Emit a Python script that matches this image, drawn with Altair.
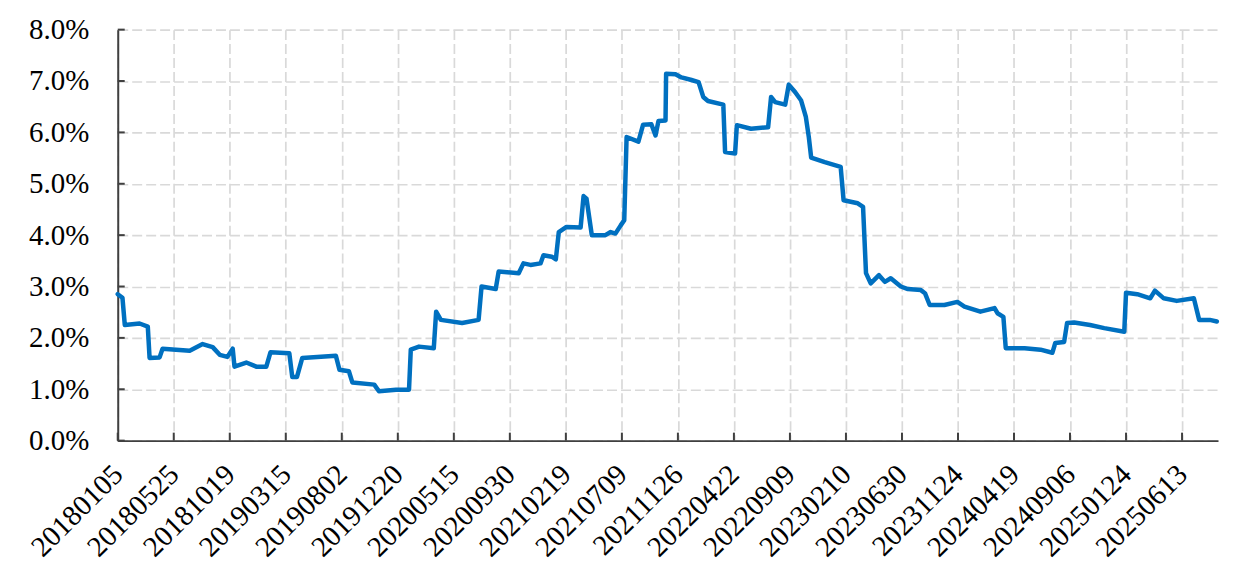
import altair as alt
import pandas as pd

# trading-day index (from 20180105) and rate in percent
day_index = [0, 8, 12, 37, 51, 54, 71, 76, 122, 144, 161, 173, 186, 195, 198, 218, 235, 252,
             259, 291, 296, 304, 313, 370, 376, 392, 398, 435, 443, 472, 494, 497, 511, 536,
             540, 548, 584, 612, 617, 641, 646, 680, 688, 700, 717, 722, 736, 743, 748, 761,
             785, 790, 795, 804, 827, 836, 844, 853, 859, 863, 883, 891, 905, 912, 917, 929,
             930, 946, 956, 973, 985, 993, 1001, 1027, 1030, 1047, 1050, 1074, 1103, 1108,
             1115, 1132, 1138, 1149, 1159, 1167, 1172, 1176, 1199, 1226, 1231, 1255, 1264,
             1269, 1277, 1291, 1301, 1311, 1328, 1340, 1362, 1369, 1377, 1402, 1424, 1436,
             1463, 1487, 1492, 1502, 1506, 1538, 1565, 1585, 1590, 1605, 1610, 1622, 1649,
             1673, 1707, 1710, 1729, 1751, 1759, 1774, 1796, 1825, 1834, 1852, 1864]
rate_pct = [2.85, 2.78, 2.25, 2.28, 2.22, 1.61, 1.62, 1.79, 1.75, 1.88, 1.82, 1.67, 1.63, 1.79,
            1.44, 1.52, 1.44, 1.44, 1.72, 1.70, 1.24, 1.24, 1.61, 1.65, 1.38, 1.35, 1.13, 1.09,
            0.96, 0.99, 0.99, 1.77, 1.83, 1.80, 2.51, 2.35, 2.29, 2.35, 3.00, 2.95, 3.29, 3.26,
            3.45, 3.42, 3.45, 3.61, 3.58, 3.53, 4.06, 4.16, 4.15, 4.76, 4.71, 4.00, 4.00, 4.06,
            4.03, 4.19, 4.29, 5.91, 5.82, 6.15, 6.16, 5.94, 6.22, 6.23, 7.14, 7.13, 7.07, 7.02,
            6.98, 6.69, 6.61, 6.54, 5.62, 5.59, 6.14, 6.07, 6.10, 6.69, 6.59, 6.54, 6.93, 6.78,
            6.62, 6.30, 5.91, 5.51, 5.42, 5.33, 4.68, 4.62, 4.55, 3.26, 3.06, 3.22, 3.09, 3.16,
            3.00, 2.95, 2.93, 2.87, 2.64, 2.64, 2.70, 2.61, 2.51, 2.58, 2.48, 2.41, 1.80, 1.80,
            1.77, 1.71, 1.90, 1.92, 2.29, 2.30, 2.25, 2.19, 2.12, 2.88, 2.85, 2.77, 2.92, 2.77,
            2.72, 2.77, 2.35, 2.35, 2.32]

tick_labels = ["20180105", "20180525", "20181019", "20190315", "20190802", "20191220",
               "20200515", "20200930", "20210219", "20210709", "20211126", "20220422",
               "20220909", "20230210", "20230630", "20231124", "20240419", "20240906",
               "20250124", "20250613"]
label_step = 95
last_day = 1866
y_ticks = [0, 1, 2, 3, 4, 5, 6, 7, 8]

x_ticks = [i * label_step for i in range(len(tick_labels))]

series = pd.DataFrame({"idx": day_index, "rate": rate_pct})
xt = pd.DataFrame({"idx": x_ticks})
yt = pd.DataFrame({"rate": y_ticks})

W, H = 1103, 412

label_array = "[" + ",".join("'" + s + "'" for s in tick_labels) + "]"

x_enc = alt.X(
    "idx:Q",
    scale=alt.Scale(domain=[0, last_day], nice=False, zero=False),
    axis=alt.Axis(title=None, values=x_ticks, labelAngle=-45, labelAlign="right",
                  labelBaseline="middle", labelPadding=29,
                  labelExpr=label_array + "[round(datum.value/" + str(label_step) + ")]"),
)
y_enc = alt.Y(
    "rate:Q",
    scale=alt.Scale(domain=[0, 8], nice=False),
    axis=alt.Axis(title=None, values=y_ticks, labelPadding=29,
                  labelExpr="format(datum.value, '.1f') + '%'"),
)

line = alt.Chart(series).mark_line(
    color="#0070C0", strokeWidth=4.5, strokeJoin="round", strokeCap="round"
).encode(x=x_enc, y=y_enc)

xtick = alt.Chart(xt).mark_rule(color="#404040", strokeWidth=2).encode(
    x=x_enc,
    y=alt.value(H),
    y2=alt.value(H - 8),
)

ytick = alt.Chart(yt).mark_rule(color="#404040", strokeWidth=2).encode(
    y=y_enc,
    x=alt.value(0),
    x2=alt.value(7),
)

chart = alt.layer(xtick, ytick, line).properties(
    width=W, height=H,
    autosize=alt.AutoSizeParams(type="none"),
    padding={"left": 110, "top": 21, "right": 10, "bottom": 130},
).configure_axis(
    labelFont="Liberation Serif", labelFontSize=29, labelColor="#000000",
    gridColor="#d9d9d9", gridDash=[10, 4], gridWidth=1.7,
    domainColor="#404040", domainWidth=2, ticks=False, tickSize=0,
    labelOverlap=False, labelFlush=False,
).configure_view(strokeWidth=0)

chart.save("out.html", embed_options={"renderer": "svg", "actions": False})
